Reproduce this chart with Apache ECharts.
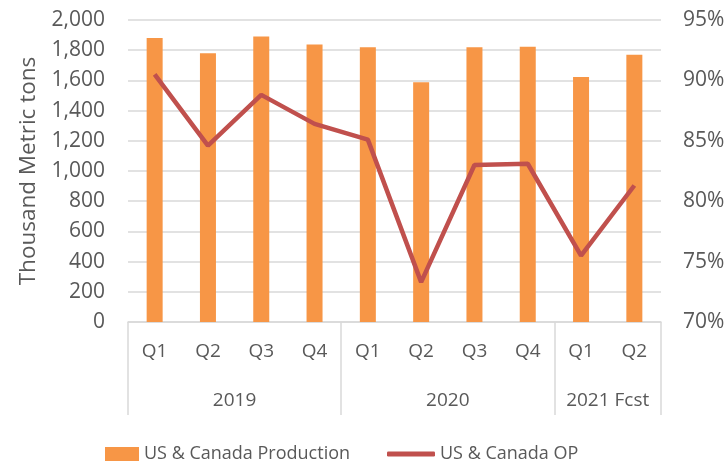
<!DOCTYPE html>
<html>
<head>
<meta charset="utf-8">
<script src="https://cdn.jsdelivr.net/npm/echarts@6/dist/echarts.min.js"></script>
<style>
  html, body { margin: 0; padding: 0; background: #fff; }
  #chart { width: 724px; height: 462px; }
</style>
</head>
<body>
<div id="chart"></div>
<script>
// quarters and year groups
var quarters = ['Q1', 'Q2', 'Q3', 'Q4', 'Q1', 'Q2', 'Q3', 'Q4', 'Q1', 'Q2']
var yearNames = ['2019', '2020', '2021 Fcst']
var yearCenters = [2, 6, 9]        // middle of each group, in category units
var yearBounds = [0, 4, 8, 10]     // group separators

var production = [1881, 1779, 1890, 1837, 1819, 1587, 1819, 1823, 1623, 1770]
var opRate = [90.5, 84.6, 88.8, 86.4, 85.1, 73.3, 83.0, 83.1, 75.5, 81.3]

var leftTicks = [0, 200, 400, 600, 800, 1000, 1200, 1400, 1600, 1800, 2000]
var rightTicks = [70, 75, 80, 85, 90, 95]

var font = 'Open Sans'
var txt = '#595959'
var gridCol = '#D9D9D9'

var chart = echarts.init(document.getElementById('chart'))

var legendText = { fontFamily: font, fontSize: 18, color: txt }

var option = {
    animation: false,
    textStyle: { fontFamily: font },
    grid: { left: 128, right: 63, top: 20, bottom: 140, outerBoundsMode: 'none' },
    legend: [
        {
            left: 100,
            top: 440,
            itemWidth: 34,
            itemHeight: 14,
            icon: 'rect',
            textStyle: legendText,
            data: ['US & Canada Production']
        },
        {
            left: 382,
            top: 440,
            itemWidth: 48,
            itemHeight: 5,
            icon: 'roundRect',
            textStyle: legendText,
            data: ['US & Canada OP']
        }
    ],
    xAxis: [
        {
            type: 'category',
            data: quarters,
            axisLine: { lineStyle: { color: gridCol, width: 1.5 } },
            axisTick: { show: false },
            axisLabel: { color: txt, fontSize: 19, margin: 20, interval: 0 }
        },
        {
            type: 'value',
            position: 'bottom',
            min: 0,
            max: 10,
            axisLine: { show: false },
            splitLine: { show: false },
            axisTick: {
                show: true,
                length: 93,
                customValues: yearBounds,
                lineStyle: { color: gridCol, width: 1.5 }
            },
            axisLabel: {
                color: txt,
                fontSize: 19,
                margin: 69,
                customValues: yearCenters,
                formatter: function (v) {
                    var i = yearCenters.indexOf(v)
                    return i >= 0 ? yearNames[i] : ''
                }
            }
        }
    ],
    yAxis: [
        {
            type: 'value',
            min: leftTicks[0],
            max: leftTicks[leftTicks.length - 1],
            interval: 200,
            name: 'Thousand Metric tons',
            nameLocation: 'middle',
            nameGap: 88,
            nameTextStyle: { color: txt, fontSize: 22.5, fontFamily: font },
            axisLine: { show: false },
            axisTick: { show: false },
            axisLabel: {
                color: txt,
                fontSize: 21,
                margin: 23,
                formatter: function (v) { return v.toLocaleString('en-US') }
            },
            splitLine: { lineStyle: { color: gridCol, width: 1.5 } }
        },
        {
            type: 'value',
            min: rightTicks[0],
            max: rightTicks[rightTicks.length - 1],
            interval: 5,
            position: 'right',
            axisLine: { show: false },
            axisTick: { show: false },
            splitLine: { show: false },
            axisLabel: { color: txt, fontSize: 21, margin: 22, formatter: '{value}%' }
        }
    ],
    series: [
        {
            name: 'US & Canada Production',
            type: 'bar',
            data: production,
            barWidth: 16,
            itemStyle: { color: '#F79646' }
        },
        {
            name: 'US & Canada OP',
            type: 'line',
            yAxisIndex: 1,
            data: opRate,
            symbol: 'none',
            lineStyle: { color: '#C0504D', width: 4.5 },
            itemStyle: { color: '#C0504D' }
        }
    ]
}

chart.setOption(option)
</script>
</body>
</html>
